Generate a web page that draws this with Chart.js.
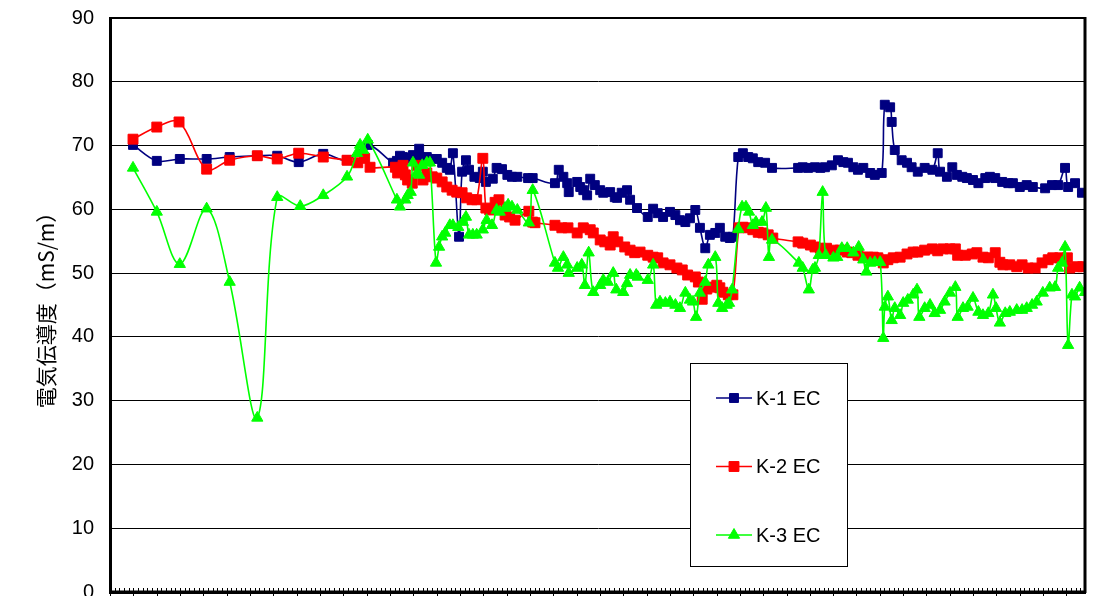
<!DOCTYPE html>
<html><head><meta charset="utf-8">
<script src="https://cdn.jsdelivr.net/npm/chart.js@4.4.1/dist/chart.umd.min.js"></script>
<style>html,body{margin:0;padding:0;background:#fff;overflow:hidden}#wrap{position:relative;width:1097px;height:596px}</style>
</head><body><div id="wrap"><canvas id="c" width="1097" height="596"></canvas></div>
<script>
// ---- data (x = elapsed days, y = EC in mS/m) ----
const seriesNames = ['K-1 EC', 'K-2 EC', 'K-3 EC'];
const yTicks = [0, 10, 20, 30, 40, 50, 60, 70, 80, 90];
const yTitle = '電気伝導度（mS/m）';

const k1Day = [30,61,91,126,156,192,218,246,278,309,336,369,374,378,382,388,395,403,404,413,417,426,433,439,443,447,455,459,464,468,475,482,486,490,499,504,511,518,524,531,545,551,580,585,591,596,598,609,613,617,622,626,632,639,643,652,658,661,667,674,678,687,701,708,714,721,730,737,743,750,756,763,769,776,782,789,795,802,808,812,819,825,832,838,845,854,863,897,903,910,919,926,932,941,949,956,962,969,975,982,991,997,1006,1010,1017,1019,1023,1032,1039,1045,1053,1062,1072,1079,1082,1091,1098,1104,1111,1117,1125,1132,1141,1147,1154,1163,1171,1177,1186,1195,1203,1219,1228,1236,1245,1249,1258,1267];
const k1EC = [70.1,67.6,67.9,67.9,68.2,68.4,68.4,67.4,68.7,67.7,70.1,67.3,67.6,68.4,68.2,68.0,68.5,69.5,68.2,68.2,67.9,67.9,67.3,66.5,66.2,68.8,55.7,65.9,67.7,66.2,65.1,64.9,65.9,64.3,64.8,66.5,66.3,65.4,65.1,65.1,64.9,64.9,64.1,66.2,65.1,64.1,62.7,64.3,63.5,63.0,62.2,64.8,63.8,63.0,62.6,62.7,61.9,61.8,62.6,63.0,61.5,60.2,58.8,60.1,59.4,58.8,59.6,59.1,58.3,58.0,58.6,59.9,57.1,53.9,56.0,56.3,57.1,55.7,55.5,55.7,68.2,68.8,68.2,68.0,67.4,67.3,66.5,66.5,66.6,66.5,66.6,66.5,66.6,66.9,67.7,67.4,67.3,66.6,66.2,66.5,65.7,65.4,65.7,76.4,76.0,73.7,69.3,67.7,67.3,66.6,65.9,66.5,66.2,68.8,65.9,65.1,66.6,65.4,65.1,64.9,64.6,64.1,64.9,65.1,64.9,64.3,64.1,64.1,63.5,63.8,63.5,63.3,63.8,63.8,66.5,63.5,64.1,62.6];

const k2Day = [30,61,90,126,156,192,218,246,278,309,323,332,339,372,375,382,385,388,394,400,408,413,420,426,433,439,446,452,459,465,472,478,486,490,495,502,507,515,521,528,546,551,554,580,589,597,609,617,626,630,639,645,652,656,662,671,678,684,691,701,708,714,721,730,739,746,753,763,767,772,778,785,791,795,799,806,812,820,825,832,838,845,851,858,864,897,903,913,919,926,934,943,952,961,967,975,982,988,995,1001,1008,1014,1021,1030,1039,1047,1053,1062,1072,1079,1086,1095,1102,1105,1115,1124,1130,1138,1145,1154,1160,1164,1173,1182,1189,1197,1206,1215,1223,1229,1238,1248,1251,1261,1268];
const k2EC = [71.0,72.9,73.7,66.3,67.7,68.4,67.9,68.8,68.2,67.7,67.3,68.0,66.6,66.6,65.7,66.9,65.4,64.6,64.1,66.9,64.6,65.7,65.1,64.9,64.3,63.5,63.0,62.7,62.6,61.8,61.5,61.5,68.0,60.2,59.9,61.1,61.5,59.1,58.8,58.3,59.7,58.0,57.9,57.5,57.1,57.1,56.3,57.1,56.8,56.3,55.2,54.9,54.4,55.7,54.9,54.1,53.6,53.2,53.3,52.8,52.5,52.4,51.6,51.3,50.8,50.5,49.7,49.4,48.6,45.9,47.5,47.8,48.1,47.7,47.0,46.6,46.6,57.1,57.2,57.1,56.8,56.4,56.3,56.0,55.5,54.9,54.7,54.4,54.1,53.9,53.9,53.6,53.6,53.3,53.2,52.8,52.5,52.5,52.5,52.4,51.6,52.1,52.4,52.5,53.0,53.3,53.3,53.6,53.8,53.5,53.8,53.8,53.8,52.8,52.8,53.0,53.2,52.5,52.4,53.2,51.7,51.3,51.3,51.0,51.3,50.8,50.8,51.6,52.1,52.4,52.4,52.4,50.8,51.0,51.0];

const k3Day = [30,61,91,126,156,192,218,248,278,309,322,326,330,336,374,378,385,388,392,395,400,403,407,413,417,425,429,433,437,443,447,454,460,464,468,473,478,486,491,498,504,508,515,519,524,531,546,551,580,584,591,596,598,609,615,619,624,630,639,643,649,656,660,669,674,678,686,688,701,708,712,717,724,730,737,743,750,756,760,764,769,776,780,789,793,798,804,807,811,819,824,829,833,838,842,850,855,859,863,898,903,911,916,919,924,929,933,943,948,954,961,969,976,982,986,991,997,1004,1008,1010,1014,1019,1023,1030,1034,1040,1047,1052,1055,1062,1069,1075,1082,1088,1095,1102,1105,1112,1118,1125,1132,1138,1145,1151,1155,1160,1167,1173,1182,1189,1195,1202,1208,1216,1225,1232,1236,1241,1245,1249,1254,1258,1264,1271];
const k3EC = [66.5,59.6,51.4,60.1,48.6,27.3,61.9,60.5,62.2,65.1,68.8,70.1,69.3,70.9,61.5,60.4,61.5,62.2,62.7,67.3,65.7,65.4,66.9,67.3,67.3,51.6,54.1,55.7,56.3,57.5,57.5,57.2,58.0,58.8,56.0,56.0,56.0,56.8,58.3,57.5,59.9,59.6,60.2,60.7,60.4,59.9,57.9,63.0,51.6,50.8,52.5,51.3,50.0,50.8,51.3,48.1,53.2,47.0,48.1,48.9,48.6,50.0,47.4,47.0,48.4,49.7,49.7,49.4,48.9,51.3,45.0,45.5,45.3,45.5,45.0,44.5,46.9,45.8,45.5,43.1,46.9,48.6,51.3,52.5,45.3,44.5,45.0,45.3,47.4,56.9,60.4,60.4,59.6,57.5,58.0,58.0,60.2,52.5,55.2,51.6,50.8,47.4,50.5,50.8,52.8,62.7,52.8,52.4,52.5,53.9,53.9,53.2,54.1,52.1,50.2,51.6,51.7,51.7,39.8,44.7,46.3,42.6,44.5,43.4,45.3,45.8,46.6,47.4,43.1,44.5,45.0,43.7,44.2,45.5,46.9,47.8,43.1,44.5,44.7,46.1,43.9,43.4,43.7,46.6,44.5,42.2,43.7,43.9,44.2,44.2,44.5,45.0,45.5,46.9,47.7,47.8,50.8,51.6,54.1,38.7,46.6,46.3,47.7,47.0];

const xMaxDay = 1271;
const monthDays = 30.41;

const toXY = (xs, ys) => xs.map((x, i) => ({ x: x, y: ys[i] }));

const frame = {
  id: 'frame',
  afterDatasetsDraw(chart) {
    const { ctx, chartArea: a } = chart;
    ctx.save();
    ctx.strokeStyle = '#000';
    ctx.lineWidth = 2;
    ctx.beginPath(); ctx.moveTo(a.left, a.top); ctx.lineTo(a.right, a.top); ctx.stroke();
    ctx.lineWidth = 3;
    ctx.beginPath(); ctx.moveTo(a.right, a.top - 1); ctx.lineTo(a.right, a.bottom + 1); ctx.stroke();
    ctx.beginPath(); ctx.moveTo(a.left, a.bottom); ctx.lineTo(a.right, a.bottom); ctx.stroke();
    // minor ticks on x axis
    const xs = chart.scales.x;
    ctx.lineWidth = 1;
    for (let v = 0; v <= xMaxDay; v += monthDays / 5) {
      const px = Math.round(xs.getPixelForValue(v)) + 0.5;
      ctx.beginPath(); ctx.moveTo(px, a.bottom - 4); ctx.lineTo(px, a.bottom); ctx.stroke();
    }
    // major ticks below the axis
    for (let v = 0; v <= xMaxDay + 0.01; v += monthDays) {
      const px = Math.round(xs.getPixelForValue(v)) + 0.5;
      ctx.beginPath(); ctx.moveTo(px, a.bottom); ctx.lineTo(px, a.bottom + 6); ctx.stroke();
    }
    // legend box
    const bx = 690.5, by = 363.5, bw = 157, bh = 203;
    ctx.fillStyle = '#fff';
    ctx.fillRect(bx, by, bw, bh);
    ctx.strokeRect(bx, by, bw, bh);
    chart.data.datasets.forEach((ds, i) => {
      const y = 398 + i * 68.5;
      ctx.strokeStyle = ds.borderColor;
      ctx.lineWidth = ds.borderWidth;
      ctx.beginPath(); ctx.moveTo(716, y); ctx.lineTo(752, y); ctx.stroke();
      ctx.fillStyle = ds.pointBackgroundColor;
      ctx.strokeStyle = ds.pointBorderColor;
      ctx.lineWidth = 1;
      Chart.helpers.drawPoint(ctx, { pointStyle: ds.pointStyle, radius: ds.pointRadius, rotation: 0, borderWidth: 1 }, 734, y);
      ctx.fillStyle = '#000';
      ctx.font = '20px "Liberation Sans", Arial, sans-serif';
      ctx.textBaseline = 'middle';
      ctx.textAlign = 'left';
      ctx.fillText(ds.label, 756, y + 1);
    });
    ctx.restore();
  }
};

const colors = ['#000080', '#ff0000', '#00ff00'];
const styles = ['rect', 'rect', 'triangle'];
const radii = [6.3, 7, 6.5];
const sets = [toXY(k1Day, k1EC), toXY(k2Day, k2EC), toXY(k3Day, k3EC)];

new Chart(document.getElementById('c'), {
  type: 'line',
  data: {
    datasets: sets.map((d, i) => ({
      label: seriesNames[i],
      data: d,
      borderColor: colors[i],
      backgroundColor: colors[i],
      pointBackgroundColor: colors[i],
      pointBorderColor: colors[i],
      pointStyle: styles[i],
      pointRadius: radii[i],
      pointBorderWidth: 1,
      borderWidth: 1.6,
      tension: 0.35,
      fill: false,
      order: 3 - i
    }))
  },
  options: {
    responsive: false,
    animation: false,
    devicePixelRatio: 1,
    layout: { autoPadding: false, padding: { top: 18, right: 12, bottom: 4, left: 0 } },
    plugins: { legend: { display: false }, tooltip: { enabled: false } },
    scales: {
      x: {
        type: 'linear',
        min: 0,
        max: xMaxDay,
        afterBuildTicks(scale) {
          const t = [];
          for (let v = 0; v <= xMaxDay + 0.01; v += monthDays) t.push({ value: v });
          scale.ticks = t;
        },
        afterFit(scale) {
          scale.height = 0;
          scale.paddingLeft = 0; scale.paddingRight = 0;
          scale.paddingTop = 0; scale.paddingBottom = 0;
        },
        ticks: { display: false },
        grid: { display: false, drawOnChartArea: false, drawTicks: false },
        border: { display: true, color: '#000', width: 3 }
      },
      y: {
        min: 0,
        max: 90,
        afterBuildTicks(scale) { scale.ticks = yTicks.map(v => ({ value: v })); },
        afterFit(scale) {
          scale.width = 110;
          scale.paddingTop = 0; scale.paddingBottom = 0;
        },
        ticks: {
          color: '#000',
          padding: 16,
          font: { family: '"Liberation Sans", Arial, sans-serif', size: 20, lineHeight: 0.3 }
        },
        grid: { color: '#000', lineWidth: 1, drawTicks: false },
        border: { display: true, color: '#000', width: 3 },
        title: {
          display: true,
          text: yTitle,
          color: '#000',
          font: { family: '"Noto Sans CJK JP", sans-serif', size: 21 },
          padding: { top: 33, bottom: 0 }
        }
      }
    }
  },
  plugins: [frame]
});
</script></body></html>
